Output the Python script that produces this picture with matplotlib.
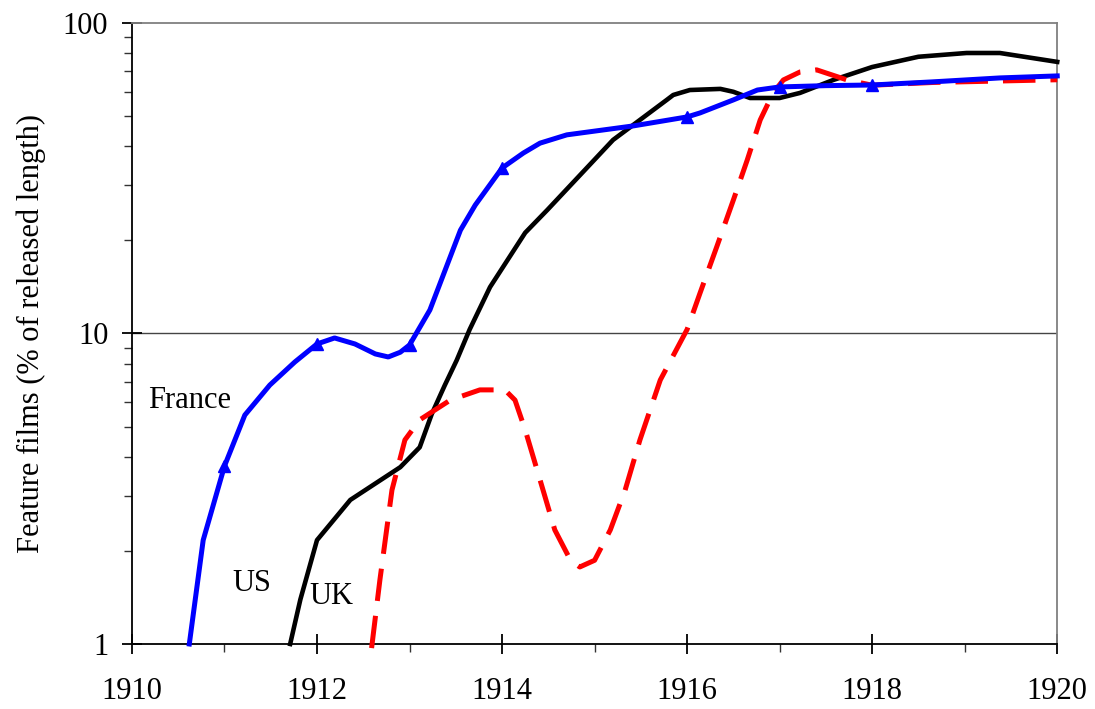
import numpy as np
import matplotlib
matplotlib.use("Agg")
import matplotlib.pyplot as plt
from matplotlib.ticker import FixedLocator, NullFormatter

# France (blue, markers at whole years)
fr_year = [1910.62, 1910.77, 1911.0, 1911.22, 1911.49, 1911.76, 1912.0, 1912.19, 1912.41,
           1912.63, 1912.77, 1912.9, 1913.0, 1913.22, 1913.55, 1913.71, 1914.0, 1914.23,
           1914.41, 1914.7, 1915.42, 1916.0, 1916.14, 1916.5, 1916.76, 1917.0, 1917.5,
           1918.0, 1918.66, 1919.38, 1920.0]
fr_val = [1.0, 2.16, 3.74, 5.46, 6.82, 8.09, 9.25, 9.67, 9.25,
          8.59, 8.4, 8.7, 9.18, 11.9, 21.5, 25.9, 34.1, 38.1,
          41.0, 43.6, 46.6, 49.8, 51.3, 56.5, 60.8, 62.2, 62.8,
          63.1, 64.6, 66.5, 67.5]

# US (black)
us_year = [1911.71, 1911.82, 1912.0, 1912.36, 1912.9, 1913.11, 1913.24, 1913.38, 1913.51,
           1913.65, 1913.87, 1914.25, 1914.49, 1915.2, 1915.49, 1915.78, 1915.85, 1916.03,
           1916.36, 1916.5, 1916.68, 1917.0, 1917.22, 1917.58, 1918.0, 1918.5, 1919.02,
           1919.38, 1920.0]
us_val = [1.0, 1.39, 2.16, 2.91, 3.71, 4.3, 5.5, 6.8, 8.2,
          10.3, 14.1, 21.1, 25.0, 42.0, 48.7, 56.5, 58.6, 60.8,
          61.3, 60.0, 57.3, 57.3, 59.5, 65.5, 72.1, 77.8, 80.0,
          80.0, 74.9]

# UK (red dashed)
uk_year = [1912.59, 1912.68, 1912.81, 1912.95, 1913.11, 1913.44, 1913.76, 1914.03, 1914.14,
           1914.25, 1914.41, 1914.57, 1914.74, 1914.84, 1915.0, 1915.17, 1915.33, 1915.49,
           1915.71, 1916.0, 1916.14, 1916.32, 1916.5, 1916.65, 1916.79, 1916.93, 1917.04,
           1917.22, 1917.4, 1917.73, 1918.0, 1918.66, 1919.38, 1920.0]
uk_val = [0.97, 1.61, 3.13, 4.54, 5.27, 6.1, 6.58, 6.58, 6.1,
          4.89, 3.38, 2.33, 1.86, 1.77, 1.86, 2.33, 3.13, 4.54,
          7.08, 10.3, 13.5, 19.0, 26.9, 36.2, 48.7, 59.5, 65.5,
          69.5, 70.6, 65.5, 63.0, 64.3, 65.0, 65.6]

labels = ["France", "US", "UK"]
label_pos = [(1910.17, 6.1), (1911.08, 1.57), (1911.92, 1.42)]

plt.rcParams['font.family'] = ['Liberation Serif', 'DejaVu Serif']

fig = plt.figure(figsize=(10.95, 7.09), dpi=100)
ax = fig.add_axes([0.1205, 0.0917, 0.845, 0.876])

fr_marks = [i for i, y in enumerate(fr_year) if abs(y - round(y)) < 1e-6 and 1911 <= y <= 1918]
ax.plot(fr_year, fr_val, color='#0000ff', lw=3.6, marker='^', markersize=9,
        markevery=fr_marks, clip_on=False, zorder=4)
ax.plot(us_year, us_val, color='black', lw=3.3, clip_on=False, zorder=3)
ax.plot(uk_year, uk_val, color='#ff0000', lw=3.6, linestyle=(0, (6.5, 3)),
        clip_on=False, zorder=3)

for t, (x, y) in zip(labels, label_pos):
    ax.text(x, y, t, fontsize=22, va='center', ha='left')

ax.set_yscale('log')
ax.set_xlim(1910, 1920)
ax.set_ylim(1, 100)
ax.set_xticks([1910, 1912, 1914, 1916, 1918, 1920])
ax.xaxis.set_minor_locator(FixedLocator([1911, 1913, 1915, 1917, 1919]))
ax.set_yticks([1, 10, 100])
ax.set_yticklabels(['1', '10', '100'])
ax.yaxis.set_minor_formatter(NullFormatter())

ax.tick_params(axis='both', which='major', direction='inout', length=14, width=1.3,
               labelsize=22, color='black')
ax.tick_params(axis='x', which='major', pad=17)
ax.tick_params(axis='y', which='major', pad=10)
ax.tick_params(axis='both', which='minor', direction='out', length=6, width=1.0, color='#333333')

ax.axhline(10, color='#444444', lw=1.0, zorder=1)
ax.spines['left'].set_linewidth(1.3)
ax.spines['bottom'].set_linewidth(1.3)
ax.spines['top'].set_color('#808080')
ax.spines['right'].set_color('#808080')
ax.spines['top'].set_linewidth(1.3)
ax.spines['right'].set_linewidth(1.3)

ax.set_ylabel('Feature films (% of released length)', fontsize=22, labelpad=12)

fig.savefig('out.png', dpi=100)
